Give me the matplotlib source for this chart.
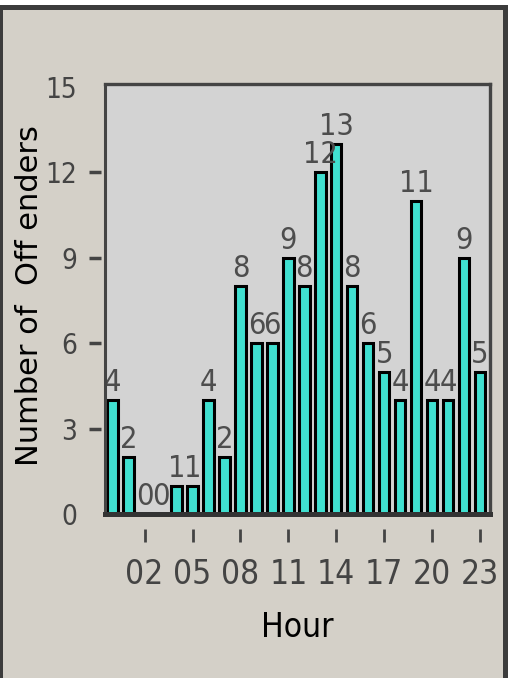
import matplotlib
matplotlib.use("Agg")
import matplotlib.pyplot as plt
from matplotlib import font_manager
from matplotlib.font_manager import FontProperties
from matplotlib.patches import Rectangle

hours = list(range(24))
offenders = [4, 2, 0, 0, 1, 1, 4, 2, 8, 6, 6, 9, 8, 12, 13, 8, 6, 5, 4, 11, 4, 4, 9, 5]
xtick_pos = [2, 5, 8, 11, 14, 17, 20, 23]
xtick_labels = ["02", "05", "08", "11", "14", "17", "20", "23"]
ytick_pos = [0, 3, 6, 9, 12, 15]
ytick_labels = ["0", "3", "6", "9", "12", "15"]

# look for a condensed / narrow sans face
cond_file = None
for key in ["liberationsansnarrow-regular", "dejavusanscondensed.ttf", "narrow", "condensed"]:
    for f in font_manager.fontManager.ttflist:
        fn = f.fname.lower().replace("_", "").replace(" ", "")
        if key in fn and "bold" not in fn and "italic" not in fn and "oblique" not in fn and "mono" not in fn and "serif" not in fn.replace("sans", ""):
            cond_file = f.fname
            break
    if cond_file:
        break

if cond_file:
    def fp(size):
        return FontProperties(fname=cond_file, size=size)
    s_bar, s_xt, s_yt, s_xl = 22, 24, 20, 24
else:
    def fp(size):
        return FontProperties(family="Liberation Sans", size=size)
    s_bar, s_xt, s_yt, s_xl = 19, 20, 18, 22

W, H = 508, 678
fig = plt.figure(figsize=(W / 100, H / 100), dpi=100)
fig.patch.set_facecolor("#d4d0c8")

# figure frame
fig.patches.append(Rectangle((0, 673 / H), 1, 5 / H, transform=fig.transFigure,
                             facecolor="white", edgecolor="none", zorder=0))
fig.patches.append(Rectangle((0, 668 / H), 1, 5 / H, transform=fig.transFigure,
                             facecolor="#3c3c3c", edgecolor="none", zorder=0))
fig.patches.append(Rectangle((0, 0), 3 / W, 673 / H, transform=fig.transFigure,
                             facecolor="#3c3c3c", edgecolor="none", zorder=0))
fig.patches.append(Rectangle((503 / W, 0), 5 / W, 673 / H, transform=fig.transFigure,
                             facecolor="#3c3c3c", edgecolor="none", zorder=0))

ax = fig.add_axes([105 / W, (H - 514) / H, 385 / W, 430 / H])
ax.set_facecolor("#d3d3d3")

bars = ax.bar(hours, offenders, width=0.66, color="#40e0d0",
              edgecolor="black", linewidth=2.2, zorder=2)
labels = ax.bar_label(bars, padding=2, color="#4d4d4d")
for t in labels:
    t.set_fontproperties(fp(s_bar))

ax.set_xlim(-0.48, 23.63)
ax.set_ylim(0, 15.09)

for side in ["left", "bottom"]:
    ax.spines[side].set_visible(False)
ax.spines["left"].set_position(("outward", 3))
ax.spines["bottom"].set_position(("outward", 11))
for side in ["top", "right"]:
    ax.spines[side].set_color("#444444")
    ax.spines[side].set_linewidth(2.4)
ax.plot([0, 0], [0, 1], transform=ax.transAxes, color="#444444", lw=2.2,
        clip_on=False, zorder=3, solid_capstyle="butt")
ax.plot([0, 1], [0, 0], transform=ax.transAxes, color="#333333", lw=3.6,
        clip_on=False, zorder=3, solid_capstyle="projecting")

ax.set_xticks(xtick_pos)
ax.set_xticklabels(xtick_labels, color="#444444")
for t in ax.get_xticklabels():
    t.set_fontproperties(fp(s_xt))
ax.set_yticks(ytick_pos)
ax.set_yticklabels(ytick_labels, color="#444444")
for t in ax.get_yticklabels():
    t.set_fontproperties(fp(s_yt))
ax.tick_params(axis="x", length=9, width=2, color="#444444", pad=12)
ax.tick_params(axis="y", length=9, width=2.5, color="#444444", pad=8)
yt = ax.yaxis.get_major_ticks()
yt[0].tick1line.set_visible(False)
yt[-1].tick1line.set_visible(False)

ax.set_xlabel("Hour", fontproperties=fp(s_xl), color="black", labelpad=14)

fig.text(30 / W, (H - 296) / H, "Number of  Off enders", rotation=90,
         ha="center", va="center", fontsize=22, family="DejaVu Sans", color="black")

fig.savefig("out.png", dpi=100, facecolor=fig.get_facecolor())
